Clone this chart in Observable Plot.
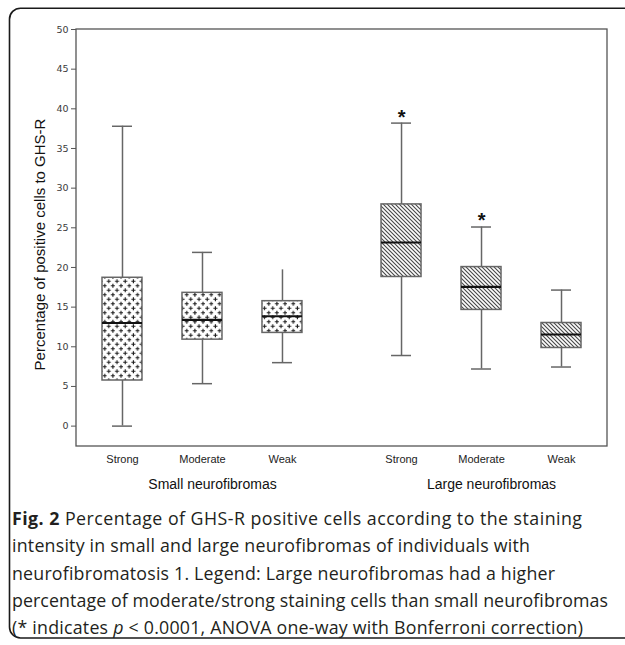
<!DOCTYPE html>
<html>
<head>
<meta charset="utf-8">
<script src="https://cdn.jsdelivr.net/npm/d3@7"></script>
<script src="https://cdn.jsdelivr.net/npm/@observablehq/plot@0.6"></script>
<style>
  html, body { margin: 0; padding: 0; background: #fff; overflow: hidden; width: 625px; height: 645px; }
  #border { position: absolute; left: 0; top: 0; }
  #chart { position: absolute; left: 0; top: 0; }
  #caption { position: absolute; left: 12px; top: 505px; font-family: "Open Sans", sans-serif; font-size: 17.8px;
             line-height: 27.3px; color: #231f20; white-space: nowrap; }
  #caption span { display: block; width: max-content; }
  #caption b { font-weight: 700; }
  g[aria-label="y-axis tick label"] { font-family: "DejaVu Sans", sans-serif; font-size: 9.5px; fill: #3a3a3a; }
  g[aria-label="y-axis label"] { font-family: "Liberation Sans", Arial, sans-serif; font-size: 15px; fill: #111; }
  g[aria-label="x-axis tick label"] { font-family: "Liberation Sans", Arial, sans-serif; font-size: 11px; fill: #222; }
  g[aria-label="fx-axis tick label"] { font-family: "Liberation Sans", Arial, sans-serif; font-size: 14px; fill: #111; }
</style>
</head>
<body>
<svg id="border" width="625" height="645"><path d="M640,8.2H20.5A11,11 0 0 0 9.5,19.2V627A11,11 0 0 0 20.5,638H640" fill="none" stroke="#1a1a1a" stroke-width="1.6"/></svg>
<div id="chart"></div>
<div id="caption"><span data-w="570"><b>Fig. 2</b> Percentage of GHS-R positive cells according to the staining</span><span data-w="518">intensity in small and large neurofibromas of individuals with</span><span data-w="543">neurofibromatosis 1. Legend: Large neurofibromas had a higher</span><span data-w="596">percentage of moderate/strong staining cells than small neurofibromas</span><span data-w="571">(* indicates <i>p</i> &lt; 0.0001, ANOVA one-way with Bonferroni correction)</span></div>
<script>
// ---- data ----
const groups = ["Small neurofibromas", "Large neurofibromas"];
const intensities = ["Strong", "Moderate", "Weak"];
const boxGroup = ["Small neurofibromas", "Small neurofibromas", "Small neurofibromas",
                  "Large neurofibromas", "Large neurofibromas", "Large neurofibromas"];
const boxIntensity = ["Strong", "Moderate", "Weak", "Strong", "Moderate", "Weak"];
const whiskerLow  = [0.0,  5.35, 8.0,  8.9,  7.2,  7.45];
const quartile1   = [5.75, 10.9, 11.75, 18.8, 14.65, 9.85];
const medians     = [13.0, 13.4, 13.85, 23.15, 17.55, 11.55];
const quartile3   = [18.7, 16.8, 15.75, 27.95, 20.05, 13.0];
const whiskerHigh = [37.8, 21.9, 19.7, 38.2, 25.1, 17.15];
const highCap     = [true, true, false, true, true, true];
const significant = [false, false, false, true, true, false];
const yTicks = [0, 5, 10, 15, 20, 25, 30, 35, 40, 45, 50];
const yLabel = "Percentage of positive cells to GHS-R";

const rows = boxGroup.map((g, i) => ({
  group: g, intensity: boxIntensity[i],
  lo: whiskerLow[i], q1: quartile1[i], med: medians[i], q3: quartile3[i], hi: whiskerHigh[i],
  cap: highCap[i], sig: significant[i]
}));

const chart = Plot.plot({
  width: 625,
  height: 500,
  marginTop: 29,
  marginBottom: 54,
  marginLeft: 76,
  marginRight: 18,
  style: { fontFamily: "Liberation Sans, Arial, sans-serif", fontSize: "11px", background: "transparent", color: "#222" },
  fx: { domain: groups, paddingInner: 0.097, paddingOuter: 0, round: false, axis: null },
  x: { domain: intensities, paddingInner: 0.5, paddingOuter: 0.325, round: false, axis: null },
  y: { domain: [-2.57, 50], axis: null },
  color: { domain: groups, range: ["url(#plusPattern)", "url(#hatchPattern)"] },
  marks: [
    Plot.axisY({ ticks: yTicks, tickSize: 5, tickPadding: 3, stroke: "#555",
                 label: yLabel, labelAnchor: "center", labelOffset: 42, labelArrow: false }),
    Plot.axisX({ anchor: "bottom", tickSize: 0, tickPadding: 9, label: null }),
    Plot.axisFx({ anchor: "bottom", tickSize: 0, tickPadding: 33, label: null, dx: 10 }),
    Plot.ruleX(rows, { fx: "group", x: "intensity", y1: "lo", y2: "hi", stroke: "#666", strokeWidth: 1.5 }),
    Plot.tickY(rows.filter(d => d.cap), { fx: "group", x: "intensity", y: "hi", insetLeft: 10, insetRight: 10, stroke: "#666", strokeWidth: 1.5 }),
    Plot.tickY(rows, { fx: "group", x: "intensity", y: "lo", insetLeft: 10, insetRight: 10, stroke: "#666", strokeWidth: 1.5 }),
    Plot.barY(rows, { fx: "group", x: "intensity", y1: "q1", y2: "q3", fill: "group", stroke: "#666", strokeWidth: 1.5 }),
    Plot.tickY(rows, { fx: "group", x: "intensity", y: "med", stroke: "#111", strokeWidth: 2.2 }),
    Plot.text(rows.filter(d => d.sig), { fx: "group", x: "intensity", y: "hi", text: () => "*", dy: -6,
                 fontSize: 20, fontWeight: "bold", fill: "#111" })
  ]
});

// pattern definitions and the outer frame of the plot area
const svg = d3.select(chart.tagName.toLowerCase() === "svg" ? chart : chart.querySelector("svg"));
const defs = svg.insert("defs", ":first-child");
const plus = defs.append("pattern").attr("id", "plusPattern").attr("patternUnits", "userSpaceOnUse")
  .attr("width", 8.2).attr("height", 9);
plus.append("rect").attr("width", 8.2).attr("height", 9).attr("fill", "#fff");
plus.append("path").attr("d", "M2.2,0.2V4.2M0.2,2.2H4.2M6.3,4.7V8.7M4.3,6.7H8.3")
  .attr("stroke", "#1e1e1e").attr("stroke-width", 1.1);
const hatch = defs.append("pattern").attr("id", "hatchPattern").attr("patternUnits", "userSpaceOnUse")
  .attr("width", 4).attr("height", 4);
hatch.append("rect").attr("width", 4).attr("height", 4).attr("fill", "#fff");
hatch.append("path").attr("d", "M-1,-1L5,5M3,-1L5,1M-1,3L1,5")
  .attr("stroke", "#444").attr("stroke-width", 1.1);

svg.insert("rect", "defs + *")
  .attr("x", 76).attr("y", 29).attr("width", 625 - 76 - 18).attr("height", 500 - 29 - 54)
  .attr("fill", "none").attr("stroke", "#555").attr("stroke-width", 1.3);

// nudge the y-axis title down to sit where the reference has it
svg.selectAll('g[aria-label="y-axis label"]').each(function () {
  const t = this.getAttribute("transform") || "";
  this.setAttribute("transform", (t + " translate(0,6.5)").trim());
});

document.getElementById("chart").appendChild(chart);

// stretch each caption line to the width it has in the reference typesetting
document.querySelectorAll("#caption span").forEach(span => {
  const target = +span.dataset.w;
  const w = span.getBoundingClientRect().width;
  const n = span.textContent.length;
  if (n > 1) span.style.letterSpacing = ((target - w) / (n - 1)) + "px";
});
</script>
</body>
</html>
